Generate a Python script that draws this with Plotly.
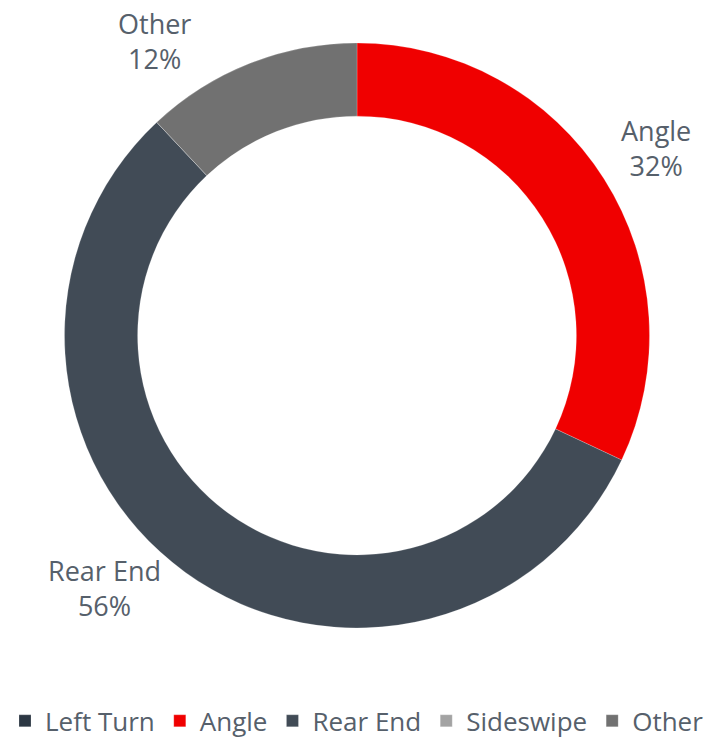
import plotly.graph_objects as go

categories = ["Left Turn", "Angle", "Rear End", "Sideswipe", "Other"]
shares = [0, 32, 56, 0, 12]
colors = ["#2c3743", "#f00000", "#414b56", "#a3a3a3", "#717171"]

# label placement (paper coords) for the non-zero slices
label_pos = {"Angle": (0.919, 0.82), "Rear End": (0.147, 0.068), "Other": (0.217, 1.003)}

text_color = "#56606b"
font_family = "Open Sans, sans-serif"

fig = go.Figure(
    go.Pie(
        labels=categories,
        values=shares,
        hole=0.75,
        sort=False,
        direction="clockwise",
        rotation=0,
        textinfo="none",
        marker=dict(colors=colors, line=dict(color="rgba(255,255,255,0.4)", width=0.5)),
        showlegend=True,
    )
)

annotations = []
for cat, val in zip(categories, shares):
    if val > 0 and cat in label_pos:
        x, y = label_pos[cat]
        annotations.append(dict(
            x=x, y=y, xref="paper", yref="paper",
            text=f"{cat}<br>{val}%", showarrow=False,
            font=dict(size=27, color=text_color, family=font_family),
            xanchor="center", yanchor="middle", align="center",
        ))

fig.update_layout(
    width=714, height=745,
    margin=dict(l=0, r=0, t=43, b=117, autoexpand=False),
    paper_bgcolor="white", plot_bgcolor="white",
    annotations=annotations,
    legend=dict(
        orientation="h", x=0.5, xanchor="center", y=-0.199, yanchor="bottom",
        font=dict(size=26, color=text_color, family=font_family),
        traceorder="normal", bgcolor="rgba(0,0,0,0)",
    ),
)

fig.write_html("out.html")
